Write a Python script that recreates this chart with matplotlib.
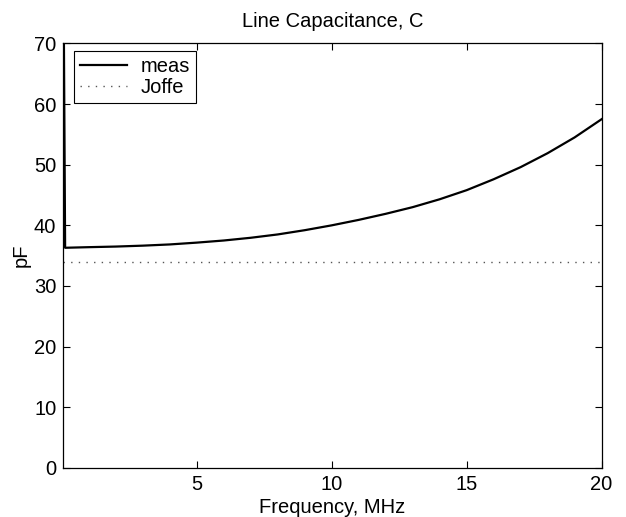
import matplotlib
matplotlib.use("Agg")
import matplotlib.pyplot as plt

# ── Dados ─────────────────────────────────────────────────────────────
freq_mhz = [0.05, 0.12, 1, 2, 3, 4, 5, 6, 7, 8, 9, 10,
            11, 12, 13, 14, 15, 16, 17, 18, 19, 20]
c_meas = [90.0, 36.3, 36.4, 36.5, 36.65, 36.85, 37.15, 37.5, 37.95, 38.5, 39.2, 40.0,
          40.9, 41.9, 43.0, 44.3, 45.8, 47.6, 49.6, 51.9, 54.5, 57.5]
c_joffe = 33.9

x_ticks = [5, 10, 15, 20]
y_ticks = [0, 10, 20, 30, 40, 50, 60, 70]

plt.rcParams.update({
    "font.family": ["Liberation Sans", "DejaVu Sans"],
    "font.size": 14.5,
    "axes.linewidth": 0.9,
})

fig = plt.figure(figsize=(6.26, 5.17), dpi=100)
ax = fig.add_axes([0.101, 0.095, 0.860, 0.821])

ax.plot(freq_mhz, c_meas, color="black", linewidth=1.6, label="meas")
ax.axhline(c_joffe, color="#555555", linewidth=1.0, linestyle=(0, (1, 4.5)),
           label="Joffe")

ax.set_xlim(0.05, 20)
ax.set_ylim(0, 70)
ax.set_xticks(x_ticks)
ax.set_yticks(y_ticks)
ax.tick_params(direction="in", length=5, width=0.8, top=True, right=True,
               labelsize=14.5, pad=5)

ax.set_title("Line Capacitance, C", fontsize=14.5, pad=12)
ax.set_xlabel("Frequency, MHz", fontsize=14.5, labelpad=3)
ax.set_ylabel("pF", fontsize=14.5, labelpad=2)

leg = ax.legend(loc="upper left", bbox_to_anchor=(0.0204, 0.982),
                borderaxespad=0, fancybox=False, framealpha=1,
                edgecolor="black", fontsize=14.5, handlelength=2.3,
                handletextpad=0.7, borderpad=0.3, labelspacing=0.1)
leg.get_frame().set_linewidth(0.8)

fig.savefig("out.png", dpi=100)
